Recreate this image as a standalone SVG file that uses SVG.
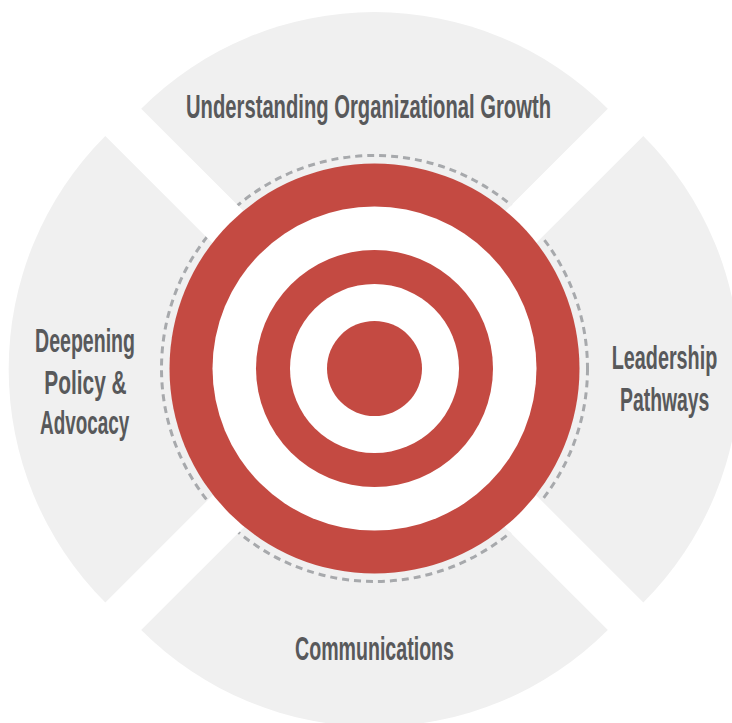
<svg xmlns="http://www.w3.org/2000/svg" xmlns:xlink="http://www.w3.org/1999/xlink" width="732" height="723" viewBox="0 0 732 723">
  <style>
    .sector { fill: #f0f0f0; }
    .label { font-family: "Liberation Sans", Arial, sans-serif; font-size: 33px; font-weight: bold; fill: #58595b; text-anchor: middle; }
    .red { fill: #c44a42; }
    .white { fill: #ffffff; }
    .guide { fill: none; stroke: #a7a9ac; stroke-width: 3; stroke-dasharray: 7 5; }
  </style>
  <defs>
    <path id="sec-top" d="M374.5,342 L141.2,108.7 A330,330 0 0,1 607.8,108.7 Z"/>
    <path id="sec-bottom" d="M374.5,396.7 L607.8,630 A330,330 0 0,1 141.2,630 Z"/>
    <path id="sec-left" d="M338.6,369.2 L105.3,602.5 A330,330 0 0,1 105.3,135.9 Z"/>
    <path id="sec-right" d="M410,369.2 L643.3,135.9 A330,330 0 0,1 643.3,602.5 Z"/>
    <clipPath id="sectors-clip">
      <use xlink:href="#sec-top"/>
      <use xlink:href="#sec-bottom"/>
      <use xlink:href="#sec-left"/>
      <use xlink:href="#sec-right"/>
    </clipPath>
  </defs>

  <rect width="732" height="723" fill="#ffffff"/>

  <!-- four quadrant panels with their labels -->
  <g id="node-growth">
    <use xlink:href="#sec-top" class="sector"/>
    <text class="label" x="368.5" y="117.5" textLength="365" lengthAdjust="spacingAndGlyphs">Understanding Organizational Growth</text>
  </g>
  <g id="node-policy">
    <use xlink:href="#sec-left" class="sector"/>
    <text class="label" x="85" y="351.5" textLength="100" lengthAdjust="spacingAndGlyphs">Deepening</text>
    <text class="label" x="85.5" y="393.5" textLength="82.4" lengthAdjust="spacingAndGlyphs">Policy &amp;</text>
    <text class="label" x="84.7" y="434" textLength="89.3" lengthAdjust="spacingAndGlyphs">Advocacy</text>
  </g>
  <g id="node-leadership">
    <use xlink:href="#sec-right" class="sector"/>
    <text class="label" x="664.5" y="369.3" textLength="105.6" lengthAdjust="spacingAndGlyphs">Leadership</text>
    <text class="label" x="664.7" y="411" textLength="89.3" lengthAdjust="spacingAndGlyphs">Pathways</text>
  </g>
  <g id="node-communications">
    <use xlink:href="#sec-bottom" class="sector"/>
    <text class="label" x="374.5" y="660" textLength="159" lengthAdjust="spacingAndGlyphs">Communications</text>
  </g>

  <!-- dashed guide ring, shown only over the panels -->
  <g id="connectors">
    <circle class="guide" cx="374.5" cy="368.5" r="213" clip-path="url(#sectors-clip)"/>
  </g>

  <!-- central target -->
  <g id="node-target">
    <circle class="red" cx="374.5" cy="368.5" r="205"/>
    <circle class="white" cx="374.5" cy="368.5" r="162"/>
    <circle class="red" cx="374.5" cy="368.5" r="118.5"/>
    <circle class="white" cx="374.5" cy="368.5" r="84.5"/>
    <circle class="red" cx="374.5" cy="368.5" r="47.5"/>
  </g>
</svg>
